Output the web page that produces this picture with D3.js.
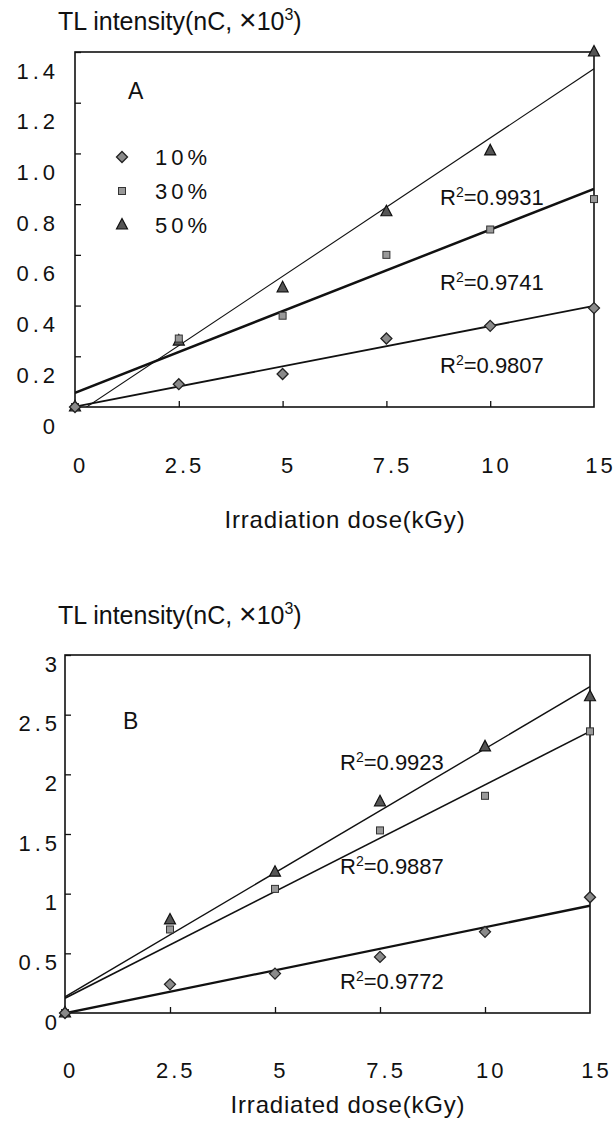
<!DOCTYPE html>
<html>
<head>
<meta charset="utf-8">
<script src="https://cdn.jsdelivr.net/npm/d3@7"></script>
<style>
  body { margin: 0; background: #fff; }
  svg { display: block; font-family: "Liberation Sans", Arial, sans-serif; }
</style>
</head>
<body>
<div id="chart"></div>
<script>
// --- data ---
const doses = ["0", "2.5", "5", "7.5", "10", "15"];
const seriesNames = ["10%", "30%", "50%"];

// panel A (Irradiation dose)
const a10 = [0, 0.09, 0.13, 0.27, 0.32, 0.39];
const a30 = [0, 0.27, 0.36, 0.60, 0.70, 0.82];
const a50 = [0, 0.26, 0.47, 0.77, 1.01, 1.40];
const aTicks = [0, 0.2, 0.4, 0.6, 0.8, 1.0, 1.2, 1.4];
const aR2 = ["0.9807", "0.9741", "0.9931"];

// panel B (Irradiated dose)
const b10 = [0, 0.24, 0.33, 0.47, 0.68, 0.97];
const b30 = [0, 0.70, 1.04, 1.53, 1.82, 2.36];
const b50 = [0, 0.78, 1.18, 1.77, 2.23, 2.65];
const bTicks = [0, 0.5, 1, 1.5, 2, 2.5, 3];
const bR2 = ["0.9772", "0.9887", "0.9923"];

const width = 615, height = 1129;
const svg = d3.select("#chart").append("svg")
    .attr("width", width).attr("height", height);

// least squares on the category index (like an Excel trendline)
function fit(values) {
  const xs = values.map((v, i) => i);
  const mx = d3.mean(xs), my = d3.mean(values);
  const sxy = d3.sum(xs, (x, i) => (x - mx) * (values[i] - my));
  const sxx = d3.sum(xs, x => (x - mx) * (x - mx));
  const b = sxy / sxx, a = my - b * mx;
  return i => a + b * i;
}

function marker(g, type, x, y) {
  if (type === 0) {
    g.append("path").attr("d", `M${x},${y-5.5}L${x+5.5},${y}L${x},${y+5.5}L${x-5.5},${y}Z`)
      .attr("fill", "#8a8a8a").attr("stroke", "#222").attr("stroke-width", 1.3);
  } else if (type === 1) {
    g.append("rect").attr("x", x - 3.5).attr("y", y - 3.5).attr("width", 7).attr("height", 7)
      .attr("fill", "#999").attr("stroke", "#333").attr("stroke-width", 1);
  } else {
    g.append("path").attr("d", `M${x},${y-6.5}L${x+5.5},${y+4}L${x-5.5},${y+4}Z`)
      .attr("fill", "#555").attr("stroke", "#111").attr("stroke-width", 1.2);
  }
}

function drawPanel(p) {
  const g = svg.append("g");
  const x = d3.scalePoint().domain(doses).range([p.left, p.right]);
  const y = d3.scaleLinear().domain([0, p.ymax]).range([p.bottom, p.top]);

  const clipId = "clip" + p.name;
  g.append("clipPath").attr("id", clipId).append("rect")
    .attr("x", p.left).attr("y", p.top)
    .attr("width", p.right - p.left).attr("height", p.bottom - p.top);

  // y axis with inner ticks, labels shifted down like the scan
  const yAxis = g.append("g").attr("transform", `translate(${p.left},0)`)
    .call(d3.axisLeft(y).tickValues(p.ticks).tickFormat(p.fmt)
      .tickSizeInner(-6).tickSizeOuter(0));
  yAxis.select(".domain").remove();
  yAxis.selectAll("line").attr("stroke", "#111").attr("stroke-width", 1.3);
  yAxis.selectAll("text").attr("font-size", 22).attr("fill", "#111")
    .attr("letter-spacing", 4).attr("dy", p.labelShift)
    .attr("x", -(p.left - p.labelRight) + 4);

  // x axis: ticks inside, labels far below
  const xAxis = g.append("g").attr("transform", `translate(0,${p.bottom})`)
    .call(d3.axisBottom(x).tickSizeInner(-6).tickSizeOuter(0).tickPadding(0));
  xAxis.select(".domain").remove();
  xAxis.selectAll("line").attr("stroke", "#111").attr("stroke-width", 1.3)
    .filter((d, i) => i === 0 || i === doses.length - 1).remove();
  xAxis.selectAll("text").attr("font-size", 22).attr("fill", "#111")
    .attr("letter-spacing", 3).attr("dy", p.xLabelDy)
    .attr("dx", (d, i) => 5 + i * 0.2);

  // frame
  g.append("rect").attr("x", p.left).attr("y", p.top)
    .attr("width", p.right - p.left).attr("height", p.bottom - p.top)
    .attr("fill", "none").attr("stroke", "#111").attr("stroke-width", 1.6);

  // trendlines
  const lines = g.append("g").attr("clip-path", `url(#${clipId})`);
  p.series.forEach((vals, s) => {
    const f = fit(vals);
    const last = doses.length - 1;
    lines.append("line")
      .attr("x1", x(doses[0])).attr("y1", y(f(0)))
      .attr("x2", x(doses[last])).attr("y2", y(f(last)))
      .attr("stroke", "#111").attr("stroke-width", p.lineWidths[s]);
  });

  // markers, 50% first so the diamond stays on top at the origin
  const marks = g.append("g");
  for (let s = p.series.length - 1; s >= 0; s--) {
    p.series[s].forEach((v, i) => marker(marks, s, x(doses[i]), y(v)));
  }

  // R2 labels
  p.r2.forEach((r, s) => {
    const t = g.append("text").attr("x", p.r2Pos[s][0]).attr("y", p.r2Pos[s][1])
      .attr("font-size", 22).attr("fill", "#111");
    t.append("tspan").text("R");
    t.append("tspan").attr("font-size", 14).attr("dy", -8).text("2");
    t.append("tspan").attr("dy", 8).text("=" + r);
  });

  // y title
  const tt = g.append("text").attr("x", p.titleX).attr("y", p.titleY)
    .attr("font-size", 25).attr("fill", "#111");
  tt.append("tspan").text("TL intensity(nC,   ");
  tt.append("tspan").attr("font-size", 30).text("\u00d7");
  tt.append("tspan").text("10");
  tt.append("tspan").attr("font-size", 16).attr("dy", -10).text("3");
  tt.append("tspan").attr("dy", 10).text(")");

  // x title
  g.append("text").attr("x", p.xTitleX).attr("y", p.xTitleY)
    .attr("text-anchor", "middle").attr("font-size", 24).attr("letter-spacing", 0.8)
    .attr("fill", "#111").text(p.xTitle);

  // panel letter
  g.append("text").attr("x", p.letterPos[0]).attr("y", p.letterPos[1])
    .attr("font-size", 23).attr("fill", "#111").text(p.name);

  return g;
}

const gA = drawPanel({
  name: "A", series: [a10, a30, a50], r2: aR2, ymax: 1.4, ticks: aTicks,
  fmt: d => d === 0 ? "0" : d3.format(".1f")(d),
  left: 75, right: 594, top: 52, bottom: 407,
  labelRight: 55, labelShift: 26, xLabelDy: 66,
  lineWidths: [1.8, 2.5, 1.1],
  r2Pos: [[440, 373], [440, 290], [440, 205]],
  titleX: 58, titleY: 30, xTitle: "Irradiation dose(kGy)", xTitleX: 345, xTitleY: 528,
  letterPos: [128, 99]
});

// legend (panel A only)
seriesNames.forEach((n, s) => {
  const ly = 157 + s * 34;
  marker(gA, s, 122, ly);
  gA.append("text").attr("x", 155).attr("y", ly + 8).attr("font-size", 22)
    .attr("letter-spacing", 4).attr("fill", "#111").text(n);
});

drawPanel({
  name: "B", series: [b10, b30, b50], r2: bR2, ymax: 3, ticks: bTicks,
  fmt: d => d3.format("")(d),
  left: 65, right: 590, top: 655, bottom: 1013,
  labelRight: 57, labelShift: 16, xLabelDy: 65,
  lineWidths: [2.3, 1.6, 1.4],
  r2Pos: [[340, 989], [340, 874], [340, 770]],
  titleX: 58, titleY: 624, xTitle: "Irradiated dose(kGy)", xTitleX: 348, xTitleY: 1113,
  letterPos: [123, 729]
});
</script>
</body>
</html>
